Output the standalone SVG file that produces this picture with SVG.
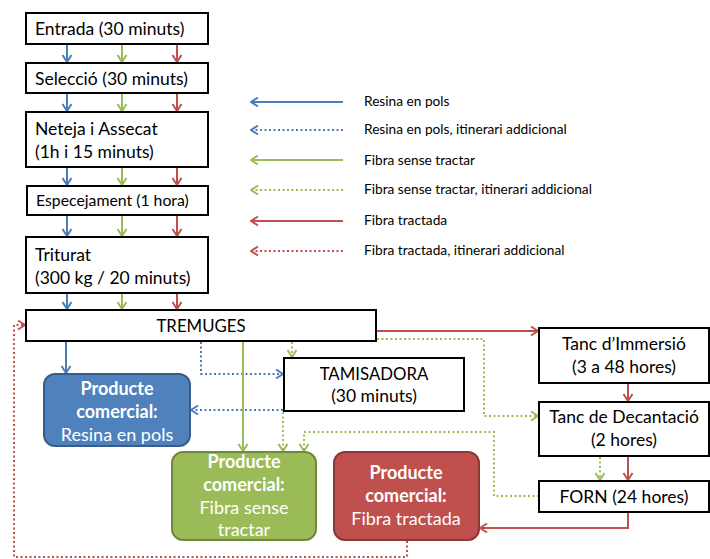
<svg xmlns="http://www.w3.org/2000/svg" width="710" height="559" viewBox="0 0 710 559">
<defs>
<marker id="ab" viewBox="0 0 10 12" refX="9" refY="6" markerWidth="10" markerHeight="12" orient="auto" markerUnits="userSpaceOnUse"><path d="M2,1.5 L9,6 L2,10.5" fill="none" stroke="#4a7ebb" stroke-width="2"/></marker>
<marker id="ag" viewBox="0 0 10 12" refX="9" refY="6" markerWidth="10" markerHeight="12" orient="auto" markerUnits="userSpaceOnUse"><path d="M2,1.5 L9,6 L2,10.5" fill="none" stroke="#9bbb59" stroke-width="2"/></marker>
<marker id="ar" viewBox="0 0 10 12" refX="9" refY="6" markerWidth="10" markerHeight="12" orient="auto" markerUnits="userSpaceOnUse"><path d="M2,1.5 L9,6 L2,10.5" fill="none" stroke="#c0504d" stroke-width="2"/></marker>
</defs>
<style>
.box{fill:#fff;stroke:#000;stroke-width:2}
.t{font-family:Lato,"Liberation Sans",sans-serif;font-size:17.5px;fill:#000}
.k{font-size:16.8px}
.lg{font-family:Lato,"Liberation Sans",sans-serif;font-size:13.7px;fill:#000}
.w{font-family:Lato,"Liberation Sans",sans-serif;font-size:18px;fill:#fff;text-anchor:middle}
.b{font-weight:bold}
.c{text-anchor:middle}
.s{fill:none;stroke-width:2}
.d{stroke-dasharray:2 2.5}
.bl{stroke:#4a7ebb}
.gr{stroke:#9bbb59}
.rd{stroke:#c0504d}
.mb{marker-end:url(#ab)}
.mg{marker-end:url(#ag)}
.mr{marker-end:url(#ar)}
</style>
<rect width="710" height="559" fill="#fff"/>
<g id="connectors">
<g id="top-arrows">
<path class="s bl mb" d="M67,44V62"/><path class="s bl mb" d="M67,93V111"/><path class="s bl mb" d="M67,167V185"/><path class="s bl mb" d="M67,215V236"/><path class="s bl mb" d="M67,293V309"/>
<path class="s gr mg" d="M122,44V62"/><path class="s gr mg" d="M122,93V111"/><path class="s gr mg" d="M122,167V185"/><path class="s gr mg" d="M122,215V236"/><path class="s gr mg" d="M122,293V309"/>
<path class="s rd mr" d="M177,44V62"/><path class="s rd mr" d="M177,93V111"/><path class="s rd mr" d="M177,167V185"/><path class="s rd mr" d="M177,215V236"/><path class="s rd mr" d="M177,293V309"/>
</g>
<g id="legend-arrows">
<path class="s bl mb" d="M343,102H251"/>
<path class="s bl d mb" d="M343,130H251"/>
<path class="s gr mg" d="M343,160H251"/>
<path class="s gr d mg" d="M343,190H251"/>
<path class="s rd mr" d="M343,221H251"/>
<path class="s rd d mr" d="M343,251H251"/>
</g>
<path class="s bl mb" d="M66,342V373"/>
<path class="s bl d mb" d="M201,342V374H283"/>
<path class="s bl d mb" d="M283,410H191"/>
<path class="s gr mg" d="M243,342V451"/>
<path class="s gr d mg" d="M292,342V357"/>
<path class="s gr d mg" d="M283,412V451"/>
<path class="s gr d mg" d="M539,496H494V432H304V451"/>
<path class="s gr d mg" d="M377,339H484V416H538"/>
<path class="s rd mr" d="M377,331H538"/>
<path class="s rd mr" d="M628,384V401"/>
<path class="s rd mr" d="M628,457V480"/>
<path class="s gr d mg" d="M600,457V480"/>
<path class="s rd mr" d="M628,513V528H480"/>
<path class="s rd d mr" d="M407,541V557H14V325H25"/>
</g>
<g id="n-entrada"><rect class="box" x="26" y="13" width="182" height="31"/><text class="t" x="35" y="35">Entrada (30 minuts)</text></g>
<g id="n-seleccio"><rect class="box" x="26" y="63" width="182" height="30"/><text class="t" x="35" y="85">Selecció (30 minuts)</text></g>
<g id="n-neteja"><rect class="box" x="26" y="112" width="182" height="55"/><text class="t" x="35" y="135">Neteja i Assecat</text><text class="t" x="35" y="158">(1h i 15 minuts)</text></g>
<g id="n-especejament"><rect class="box" x="27" y="186" width="181" height="29"/><text class="t" x="36" y="206" style="font-size:15.8px">Especejament (1 hora)</text></g>
<g id="n-triturat"><rect class="box" x="26" y="237" width="182" height="56"/><text class="t" x="35" y="261">Triturat</text><text class="t" x="35" y="284">(300 kg / 20 minuts)</text></g>
<g id="n-tremuges"><rect class="box" x="26" y="310" width="350" height="31"/><text class="t k c" x="201" y="332">TREMUGES</text></g>
<g id="n-tamisadora"><rect class="box" x="284" y="358" width="180" height="53"/><text class="t k c" x="374" y="380">TAMISADORA</text><text class="t c" x="374" y="402">(30 minuts)</text></g>
<g id="n-immersio"><rect class="box" x="539" y="328" width="170" height="55"/><text class="t c" x="624" y="350">Tanc d’Immersió</text><text class="t c" x="624" y="373">(3 a 48 hores)</text></g>
<g id="n-decantacio"><rect class="box" x="539" y="402" width="170" height="54"/><text class="t c" x="624" y="423">Tanc de Decantació</text><text class="t c" x="624" y="446">(2 hores)</text></g>
<g id="n-forn"><rect class="box" x="539" y="481" width="170" height="31"/><text class="t c" x="624" y="503">FORN (24 hores)</text></g>
<g id="n-resina"><rect x="44" y="374" width="146" height="72" rx="11" fill="#4f81bd" stroke="#385d8a" stroke-width="2"/><text class="w b" x="117" y="395">Producte</text><text class="w b" x="117" y="418">comercial:</text><text class="w" x="117" y="441">Resina en pols</text></g>
<g id="n-fibra-sense"><rect x="172" y="452" width="144" height="88" rx="11" fill="#9bbb59" stroke="#71893f" stroke-width="2"/><text class="w b" x="244" y="468">Producte</text><text class="w b" x="244" y="491">comercial:</text><text class="w" x="244" y="514">Fibra sense</text><text class="w" x="244" y="536">tractar</text></g>
<g id="n-fibra-tractada"><rect x="334" y="452" width="145" height="88" rx="11" fill="#c0504d" stroke="#8c3836" stroke-width="2"/><text class="w b" x="406" y="479">Producte</text><text class="w b" x="406" y="502">comercial:</text><text class="w" x="406" y="525">Fibra tractada</text></g>
<g id="legend">
<text class="lg" x="364" y="106">Resina en pols</text>
<text class="lg" x="364" y="134">Resina en pols, itinerari addicional</text>
<text class="lg" x="364" y="165">Fibra sense tractar</text>
<text class="lg" x="364" y="194">Fibra sense tractar, itinerari addicional</text>
<text class="lg" x="364" y="225">Fibra tractada</text>
<text class="lg" x="364" y="255">Fibra tractada, itinerari addicional</text>
</g>
</svg>
